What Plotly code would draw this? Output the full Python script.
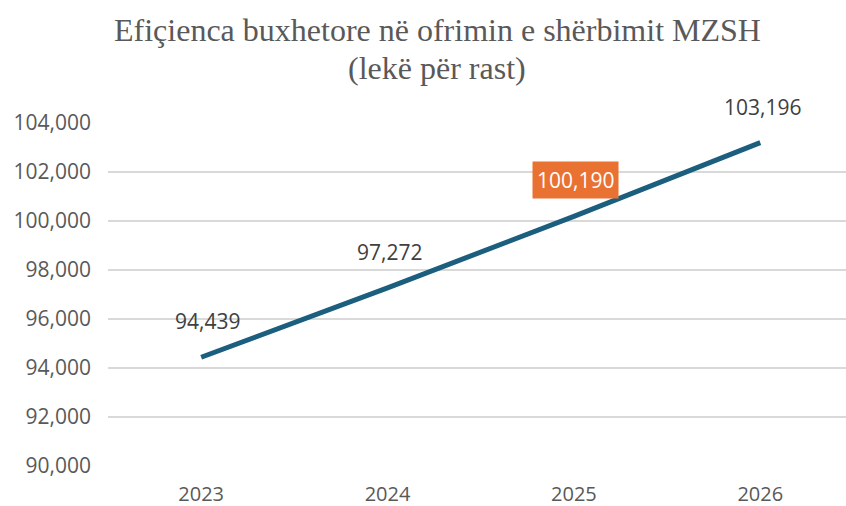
import plotly.graph_objects as go

years = ["2023", "2024", "2025", "2026"]
values = [94439, 97272, 100190, 103196]
value_labels = ["94,439", "97,272", "100,190", "103,196"]
y_ticks = [90000, 92000, 94000, 96000, 98000, 100000, 102000, 104000]
highlight_index = 2
title_lines = ["Efiçienca buxhetore në ofrimin e shërbimit MZSH", "(lekë për rast)"]

PLOT_TOP, PLOT_BOTTOM = 123, 466

def paper_y(py):
    return (PLOT_BOTTOM - py) / (PLOT_BOTTOM - PLOT_TOP)

fig = go.Figure()
fig.add_trace(go.Scatter(
    x=list(range(len(years))), y=values, mode="lines",
    line=dict(color="#1B5E7E", width=5), hoverinfo="skip", showlegend=False,
    cliponaxis=False,
))

for i, (v, lab) in enumerate(zip(values, value_labels)):
    hl = i == highlight_index
    fig.add_annotation(
        x=i, y=v, text=lab, showarrow=False, yshift=36, xshift=6 if i == 0 else 2,
        font=dict(family="Open Sans, Noto Sans, sans-serif", size=21,
                  color="white" if hl else "#404040"),
        bgcolor="#E97132" if hl else "rgba(0,0,0,0)",
        borderpad=4 if hl else 0,
    )

for line, py in zip(title_lines, [30, 68]):
    fig.add_annotation(
        xref="paper", yref="paper", x=(437 - 108) / (846 - 108), y=paper_y(py),
        xanchor="center", yanchor="middle", text=line, showarrow=False,
        font=dict(family="Liberation Serif, Times New Roman, serif", size=32, color="#595959"),
    )

fig.update_layout(
    width=846, height=506,
    margin=dict(l=108, r=0, t=PLOT_TOP, b=506 - PLOT_BOTTOM),
    paper_bgcolor="white", plot_bgcolor="white",
    xaxis=dict(
        tickmode="array", tickvals=list(range(len(years))), ticktext=years,
        range=[-0.5, 3.46], showgrid=False, zeroline=False, showline=False,
        tickfont=dict(family="Open Sans, Noto Sans, sans-serif", size=20, color="#595959"),
        ticks="", ticklen=0, ticklabelstandoff=14, automargin=False,
    ),
    yaxis=dict(
        range=[90000, 104000], tickvals=y_ticks,
        ticktext=[f"{t:,}" for t in y_ticks],
        showgrid=True, gridcolor="#D9D9D9", gridwidth=1.5, zeroline=False, showline=False,
        tickfont=dict(family="Open Sans, Noto Sans, sans-serif", size=21, color="#595959"),
        ticks="", ticklabelstandoff=16, automargin=False,
    ),
)

fig.write_html(
    "out.html",
    config={"displayModeBar": False, "responsive": False},
    default_width="846px", default_height="506px",
    post_script="document.body.style.margin='0';document.body.style.overflow='hidden';document.documentElement.style.overflow='hidden';",
)
